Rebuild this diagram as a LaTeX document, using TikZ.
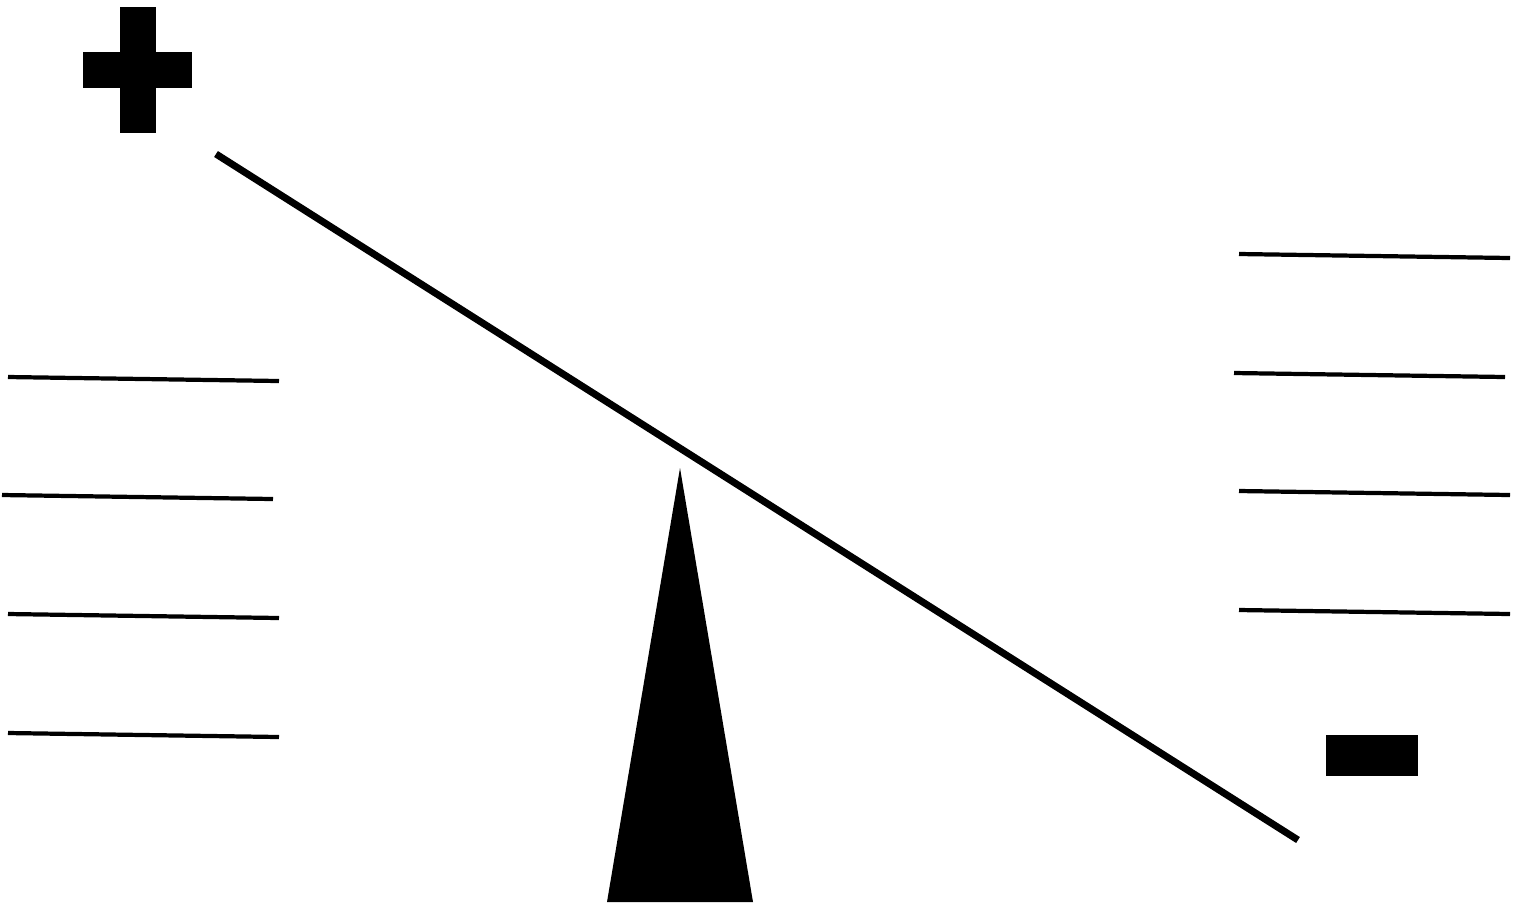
\documentclass[tikz,border=0pt]{standalone}
\usetikzlibrary{calc}

\begin{document}
\begin{tikzpicture}[x=0.01cm, y=-0.01cm, level/.style={line width=1.2pt}, beam/.style={line width=2pt}]
\useasboundingbox (0,0) rectangle (1518,905);
% plus and minus signs
\fill (120,7) rectangle (156,133); \fill (83,52) rectangle (192,88);
\fill (1326,735) rectangle (1418,776);
% tilted beam on its pivot
\coordinate (L) at (216,154); \coordinate (R) at (1298,840);
\draw[beam] (L)--(R);
\coordinate (T) at (680,468); \coordinate (BL) at (607,902); \coordinate (BR) at (753,902);
\fill (T)--(BL)--(BR)--cycle;
% left levels
\draw[level] (8,377)--(279,381); \draw[level] (2,495)--(273,499); \draw[level] (8,614)--(279,618); \draw[level] (8,733)--(279,737);
% right levels
\draw[level] (1239,254)--(1510,258); \draw[level] (1234,373)--(1505,377); \draw[level] (1239,491)--(1510,495); \draw[level] (1239,610)--(1510,614);
\end{tikzpicture}
\end{document}
